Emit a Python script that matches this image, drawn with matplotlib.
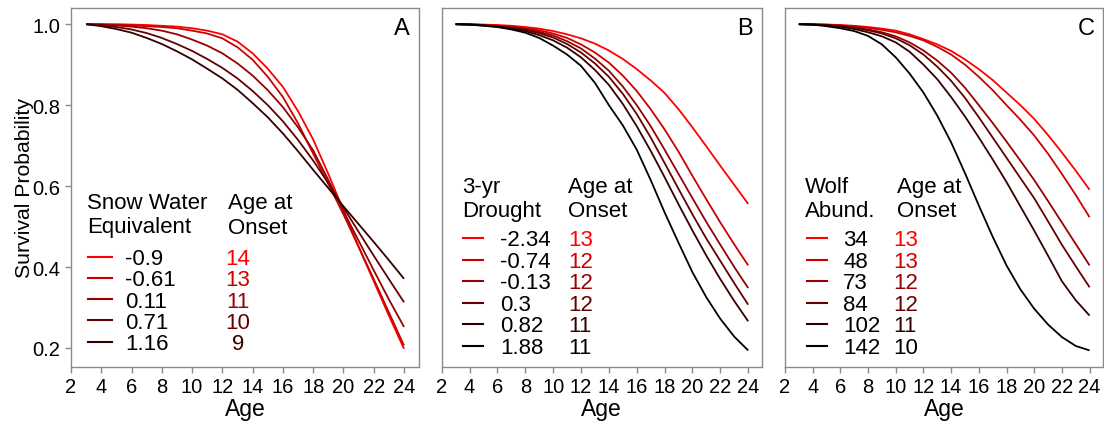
import matplotlib
matplotlib.use("Agg")
import matplotlib.pyplot as plt
from matplotlib.lines import Line2D

plt.rcParams['font.family'] = ['Liberation Sans', 'DejaVu Sans']

# ---------------- data ----------------
ages = list(range(3, 25))

# Panel A: snow water equivalent
swe_levels = ["-0.9", "-0.61", "0.11", "0.71", "1.16"]
swe_onset = ["14", "13", "11", "10", "9"]
swe_m09 = [1.0, 1.0, 1.0, 0.999, 0.998, 0.996, 0.994, 0.99, 0.984, 0.975, 0.957, 0.928,
           0.89, 0.845, 0.785, 0.715, 0.63, 0.54, 0.45, 0.365, 0.28, 0.198]
swe_m061 = [1.0, 0.999, 0.998, 0.997, 0.995, 0.993, 0.99, 0.984, 0.977, 0.965, 0.943, 0.912,
            0.87, 0.82, 0.755, 0.68, 0.605, 0.53, 0.45, 0.37, 0.288, 0.206]
swe_011 = [1.0, 0.999, 0.997, 0.994, 0.99, 0.984, 0.975, 0.962, 0.947, 0.928, 0.903, 0.873,
           0.837, 0.795, 0.745, 0.688, 0.615, 0.538, 0.465, 0.392, 0.32, 0.252]
swe_071 = [1.0, 0.997, 0.993, 0.987, 0.978, 0.966, 0.951, 0.934, 0.914, 0.892, 0.866, 0.835,
           0.80, 0.76, 0.714, 0.663, 0.607, 0.547, 0.487, 0.428, 0.37, 0.313]
swe_116 = [1.0, 0.995, 0.988, 0.979, 0.966, 0.951, 0.933, 0.913, 0.89, 0.866, 0.838, 0.805,
           0.77, 0.73, 0.686, 0.64, 0.595, 0.55, 0.506, 0.462, 0.417, 0.371]
swe_series = [swe_m09, swe_m061, swe_011, swe_071, swe_116]

# Panel B: 3-yr drought
dr_levels = ["-2.34", "-0.74", "-0.13", "0.3", "0.82", "1.88"]
dr_onset = ["13", "12", "12", "12", "11", "11"]
dr_m234 = [1.0, 1.0, 0.999, 0.998, 0.996, 0.993, 0.989, 0.983, 0.975, 0.965, 0.952, 0.935,
           0.914, 0.889, 0.861, 0.83, 0.79, 0.745, 0.698, 0.65, 0.603, 0.556]
dr_m074 = [1.0, 1.0, 0.998, 0.996, 0.994, 0.99, 0.985, 0.977, 0.966, 0.95, 0.93, 0.905,
           0.873, 0.835, 0.79, 0.74, 0.685, 0.625, 0.567, 0.51, 0.456, 0.404]
dr_m013 = [1.0, 0.999, 0.998, 0.995, 0.992, 0.988, 0.981, 0.972, 0.958, 0.94, 0.915, 0.885,
           0.846, 0.80, 0.748, 0.69, 0.63, 0.57, 0.511, 0.455, 0.40, 0.348]
dr_03 = [1.0, 0.999, 0.997, 0.994, 0.991, 0.986, 0.978, 0.967, 0.951, 0.93, 0.903, 0.87,
         0.828, 0.778, 0.72, 0.657, 0.593, 0.53, 0.47, 0.415, 0.36, 0.307]
dr_082 = [1.0, 0.999, 0.997, 0.994, 0.989, 0.983, 0.973, 0.96, 0.942, 0.918, 0.887, 0.85,
          0.803, 0.748, 0.687, 0.622, 0.555, 0.49, 0.428, 0.37, 0.316, 0.266]
dr_188 = [1.0, 0.999, 0.996, 0.993, 0.987, 0.979, 0.966, 0.947, 0.925, 0.897, 0.855, 0.80,
          0.75, 0.69, 0.615, 0.535, 0.46, 0.387, 0.325, 0.272, 0.228, 0.194]
dr_series = [dr_m234, dr_m074, dr_m013, dr_03, dr_082, dr_188]

# Panel C: wolf abundance
wolf_levels = ["34", "48", "73", "84", "102", "142"]
wolf_onset = ["13", "13", "12", "12", "11", "10"]
wolf_34 = [1.0, 1.0, 0.999, 0.998, 0.996, 0.993, 0.989, 0.984, 0.975, 0.963, 0.95, 0.934,
           0.913, 0.889, 0.862, 0.831, 0.80, 0.766, 0.726, 0.683, 0.638, 0.591]
wolf_48 = [1.0, 1.0, 0.999, 0.997, 0.994, 0.991, 0.986, 0.98, 0.971, 0.96, 0.944, 0.925,
           0.90, 0.87, 0.837, 0.80, 0.764, 0.725, 0.68, 0.63, 0.578, 0.523]
wolf_73 = [1.0, 0.999, 0.998, 0.996, 0.992, 0.987, 0.98, 0.97, 0.955, 0.935, 0.91, 0.88,
           0.843, 0.80, 0.756, 0.71, 0.663, 0.615, 0.563, 0.51, 0.457, 0.404]
wolf_84 = [1.0, 0.999, 0.997, 0.995, 0.991, 0.985, 0.977, 0.965, 0.948, 0.925, 0.895, 0.86,
           0.818, 0.77, 0.72, 0.67, 0.62, 0.57, 0.513, 0.455, 0.402, 0.35]
wolf_102 = [1.0, 0.999, 0.997, 0.994, 0.988, 0.98, 0.97, 0.955, 0.932, 0.90, 0.864, 0.82,
            0.772, 0.72, 0.666, 0.61, 0.55, 0.49, 0.428, 0.365, 0.318, 0.28]
wolf_142 = [1.0, 0.999, 0.995, 0.99, 0.983, 0.971, 0.95, 0.918, 0.878, 0.831, 0.774, 0.708,
            0.632, 0.552, 0.475, 0.404, 0.345, 0.297, 0.258, 0.227, 0.205, 0.194]
wolf_series = [wolf_34, wolf_48, wolf_73, wolf_84, wolf_102, wolf_142]

x_ticks = [2, 4, 6, 8, 10, 12, 14, 16, 18, 20, 22, 24]
y_ticks = [0.2, 0.4, 0.6, 0.8, 1.0]
y_ticklabels = ["0.2", "0.4", "0.6", "0.8", "1.0"]

colors6 = ["#FF0000", "#CC0000", "#990000", "#660000", "#330000", "#000000"]
colors5 = colors6[:5]

# ---------------- layout ----------------
W, H = 1104, 427
fig = plt.figure(figsize=(W / 100, H / 100), dpi=100)

def fx(x):
    return x / W

def fy(y):
    return 1 - y / H

def add_axes_px(left, top, right, bottom):
    return fig.add_axes([fx(left), fy(bottom), fx(right) - fx(left), (bottom - top) / H])

FS_TICK = 14.5
FS_LAB = 16.5
FS_YLAB = 15.3
FS_LEG = 16
frame_col = "#8a8a8a"

boxes = [(71, 9, 418.7, 368), (441.7, 9, 761.7, 368), (785, 9, 1103, 368)]
axA = add_axes_px(*boxes[0])
axB = add_axes_px(*boxes[1])
axC = add_axes_px(*boxes[2])

panels = [
    (axA, swe_series, colors5, "A", boxes[0]),
    (axB, dr_series, colors6, "B", boxes[1]),
    (axC, wolf_series, colors6, "C", boxes[2]),
]

for ax, series, cols, letter, box in panels:
    for s, c in zip(series, cols):
        ax.plot(ages, s, color=c, lw=1.3, solid_capstyle='butt')
    ax.set_xlim(2, 24.97)
    ax.set_ylim(0.153, 1.04)
    ax.set_xticks(x_ticks)
    ax.set_xticklabels([str(t) for t in x_ticks], fontsize=FS_TICK)
    for sp in ax.spines.values():
        sp.set_color(frame_col)
        sp.set_linewidth(1.0)
    ax.tick_params(axis='x', direction='out', length=4, width=1, color=frame_col, pad=3)
    ax.set_xlabel("Age", fontsize=FS_LAB)
    ax.xaxis.set_label_coords(0.5, (box[3] - 398) / (box[3] - box[1]))
    # panel letter, right edge ~8 px from frame, baseline ~35 px from top
    fig.text(fx(box[2] - 8.5), fy(35), letter, fontsize=17, ha='right', va='baseline')

axA.set_yticks(y_ticks)
axA.set_yticklabels(y_ticklabels, fontsize=FS_TICK)
axA.tick_params(axis='y', direction='out', length=4, width=1, color=frame_col, pad=4)
axA.set_ylabel("Survival Probability", fontsize=FS_YLAB)
axA.yaxis.set_label_coords((34 - 71) / (418.7 - 71), 0.5)
for ax in (axB, axC):
    ax.set_yticks([])


def draw_legend(head1, head2, levels, onsets, cols, sample_x, val_x, onset_x, onset_ha,
                head_x, age_x, head_base, row_c0, row_step):
    fig.text(fx(head_x), fy(head_base), head1, fontsize=FS_LEG, va='baseline', ha='left')
    fig.text(fx(head_x), fy(head_base + 24), head2, fontsize=FS_LEG, va='baseline', ha='left')
    fig.text(fx(age_x), fy(head_base), "Age at", fontsize=FS_LEG, va='baseline', ha='left')
    fig.text(fx(age_x), fy(head_base + 24), "Onset", fontsize=FS_LEG, va='baseline', ha='left')
    for i, (lev, ons, c) in enumerate(zip(levels, onsets, cols)):
        yc = row_c0 + i * row_step
        fig.add_artist(Line2D([fx(sample_x[0]), fx(sample_x[1])], [fy(yc), fy(yc)],
                              transform=fig.transFigure, color=c, lw=1.5))
        fig.text(fx(val_x), fy(yc + 7.5), lev, fontsize=FS_LEG, va='baseline', ha='left')
        fig.text(fx(onset_x), fy(yc + 7.5), ons, fontsize=FS_LEG, va='baseline',
                 ha=onset_ha, color=c)


draw_legend("Snow Water", "Equivalent", swe_levels, swe_onset, colors5,
            (88, 112), 125, 238, 'center', 87, 228, 209.5, 257.7, 21.25)
draw_legend("3-yr", "Drought", dr_levels, dr_onset, colors6,
            (463, 483), 500, 568, 'left', 461.7, 568, 193.5, 239, 21.5)
draw_legend("Wolf", "Abund.", wolf_levels, wolf_onset, colors6,
            (807, 827), 843, 893, 'left', 805, 897, 193.5, 239, 21.5)

fig.savefig("out.png", dpi=100)
